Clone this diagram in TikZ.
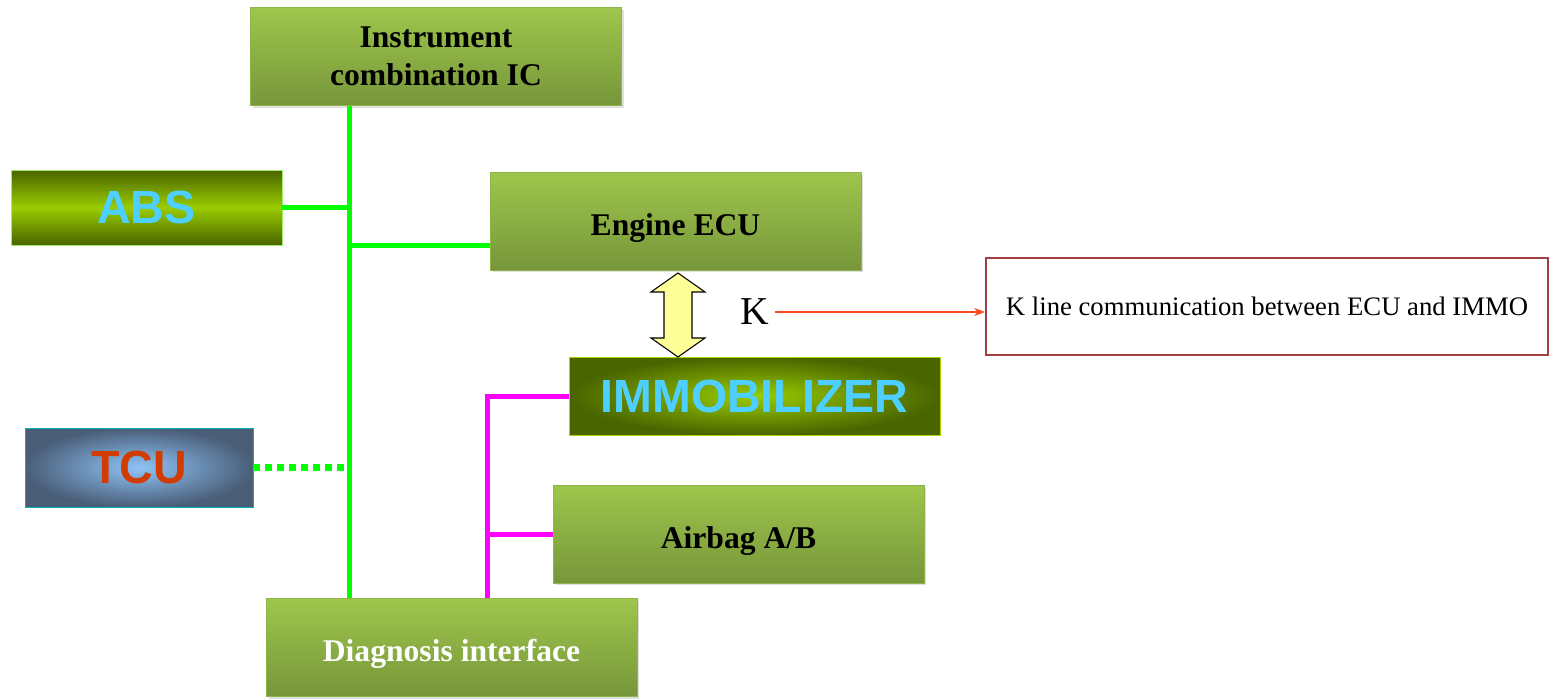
\documentclass[tikz,border=0pt]{standalone}
\usepackage{fontspec}
\setmainfont{Liberation Serif}
\newfontfamily\boxsans{Liberation Sans}
\usepackage{tikz}
\usetikzlibrary{arrows.meta, calc, shadows, positioning}

\definecolor{boxtop}{HTML}{9EC64C}
\definecolor{boxbot}{HTML}{77963A}
\definecolor{boxline}{HTML}{8FB548}
\definecolor{olivedark}{HTML}{4A6400}
\definecolor{olivelight}{HTML}{99CC00}
\definecolor{skycyan}{HTML}{4DCFFF}
\definecolor{slatedark}{HTML}{4A5E78}
\definecolor{slatelight}{HTML}{8FC4F8}
\definecolor{tcured}{HTML}{D23C00}
\definecolor{busgreen}{HTML}{00FF00}
\definecolor{busmagenta}{HTML}{FF00FF}
\definecolor{kred}{HTML}{FF4A20}
\definecolor{kframe}{HTML}{A04040}
\definecolor{karrow}{HTML}{FFFF99}

\begin{document}
\begin{tikzpicture}[
    % one unit = one pixel of the 1549 x 699 sheet, y pointing down
    x=0.02cm, y=-0.02cm,
    >=Stealth,
    greenbox/.style={draw=boxline, line width=0.5pt, top color=boxtop, bottom color=boxbot,
        minimum width=7.42cm, minimum height=1.96cm, align=center,
        font=\fontsize{18}{21.6}\selectfont\bfseries,
        execute at begin node={\rule{0pt}{20pt}},
        drop shadow={opacity=0.25, shadow xshift=0.05cm, shadow yshift=-0.05cm}},
    sansbox/.style={minimum height=1.54cm, font=\boxsans\fontsize{26.5}{30}\selectfont\bfseries},
    gbus/.style={busgreen, line width=0.1cm},
    mbus/.style={busmagenta, line width=0.1cm},
    kline/.style={kred, line width=0.7pt, -{Stealth[length=2.2mm, width=1.6mm]}}
]
    % --- Page frame ---
    \useasboundingbox (0,0) rectangle (1549,699);

    % --- Control units ---
    \node[greenbox] (ic) at (436,56.5) {Instrument\\combination IC};
    \node[greenbox] (ecu) at (675.5,221) {Engine ECU};
    \node[greenbox] (airbag) at (738.5,534) {Airbag A/B};
    \node[greenbox, text=white] (diag) at (451.5,647.5) {Diagnosis interface};

    \node[sansbox, draw=olivelight!60!green!60!white, minimum width=5.42cm, minimum height=1.5cm,
        top color=olivedark, bottom color=olivedark, middle color=olivelight,
        text=skycyan] (abs) at (146.5,207.5) {ABS};
    \node[sansbox, draw=olivelight!80!yellow, minimum width=7.42cm, minimum height=1.56cm,
        inner color=olivelight, outer color=olivedark,
        text=skycyan] (immo) at (754.5,396) {IMMOBILIZER};
    \node[sansbox, draw=teal!60!cyan, minimum width=4.56cm, minimum height=1.58cm,
        inner color=slatelight, outer color=slatedark,
        text=tcured] (tcu) at (139,467.5) {TCU};

    % --- Note on the K line ---
    \node[draw=kframe, line width=1.1pt, fill=white, minimum width=11.24cm, minimum height=1.94cm,
        font=\fontsize{15.2}{18}\selectfont] (kbox) at (1267,306.5)
        {K line communication between ECU and IMMO};
    \node[font=\fontsize{22.5}{26}\selectfont] (klabel) at (755,312) {K};

    % --- Green bus ---
    \coordinate (gx) at (349,0);
    \draw[gbus] (ic.south -| gx) -- (diag.north -| gx);
    \draw[gbus] (abs.east) -- (abs.east -| gx);
    \draw[gbus] ($(ecu.west)+(0,25)$) -- ($(ecu.west -| gx)+(0,25)$);
    \draw[gbus, line width=0.14cm, dash pattern=on 0.14cm off 0.1cm] (tcu.east) -- (tcu.east -| gx);

    % --- Magenta bus ---
    \coordinate (mx) at (487,0);
    \draw[mbus] (immo.west) -| (diag.north -| mx);
    \draw[mbus] (airbag.west) -- (airbag.west -| mx);

    % --- K line between ECU and immobilizer ---
    \draw[fill=karrow, line width=0.6pt, line join=miter] (678,273) -- ++(27,19) -- ++(-13,0) -- ++(0,46)
        -- ++(13,0) -- ++(-27,19) -- ++(-27,-19) -- ++(13,0) -- ++(0,-46) -- ++(-13,0) -- cycle;
    \draw[kline] (klabel.east) -- (klabel.east -| kbox.west);
\end{tikzpicture}
\end{document}
